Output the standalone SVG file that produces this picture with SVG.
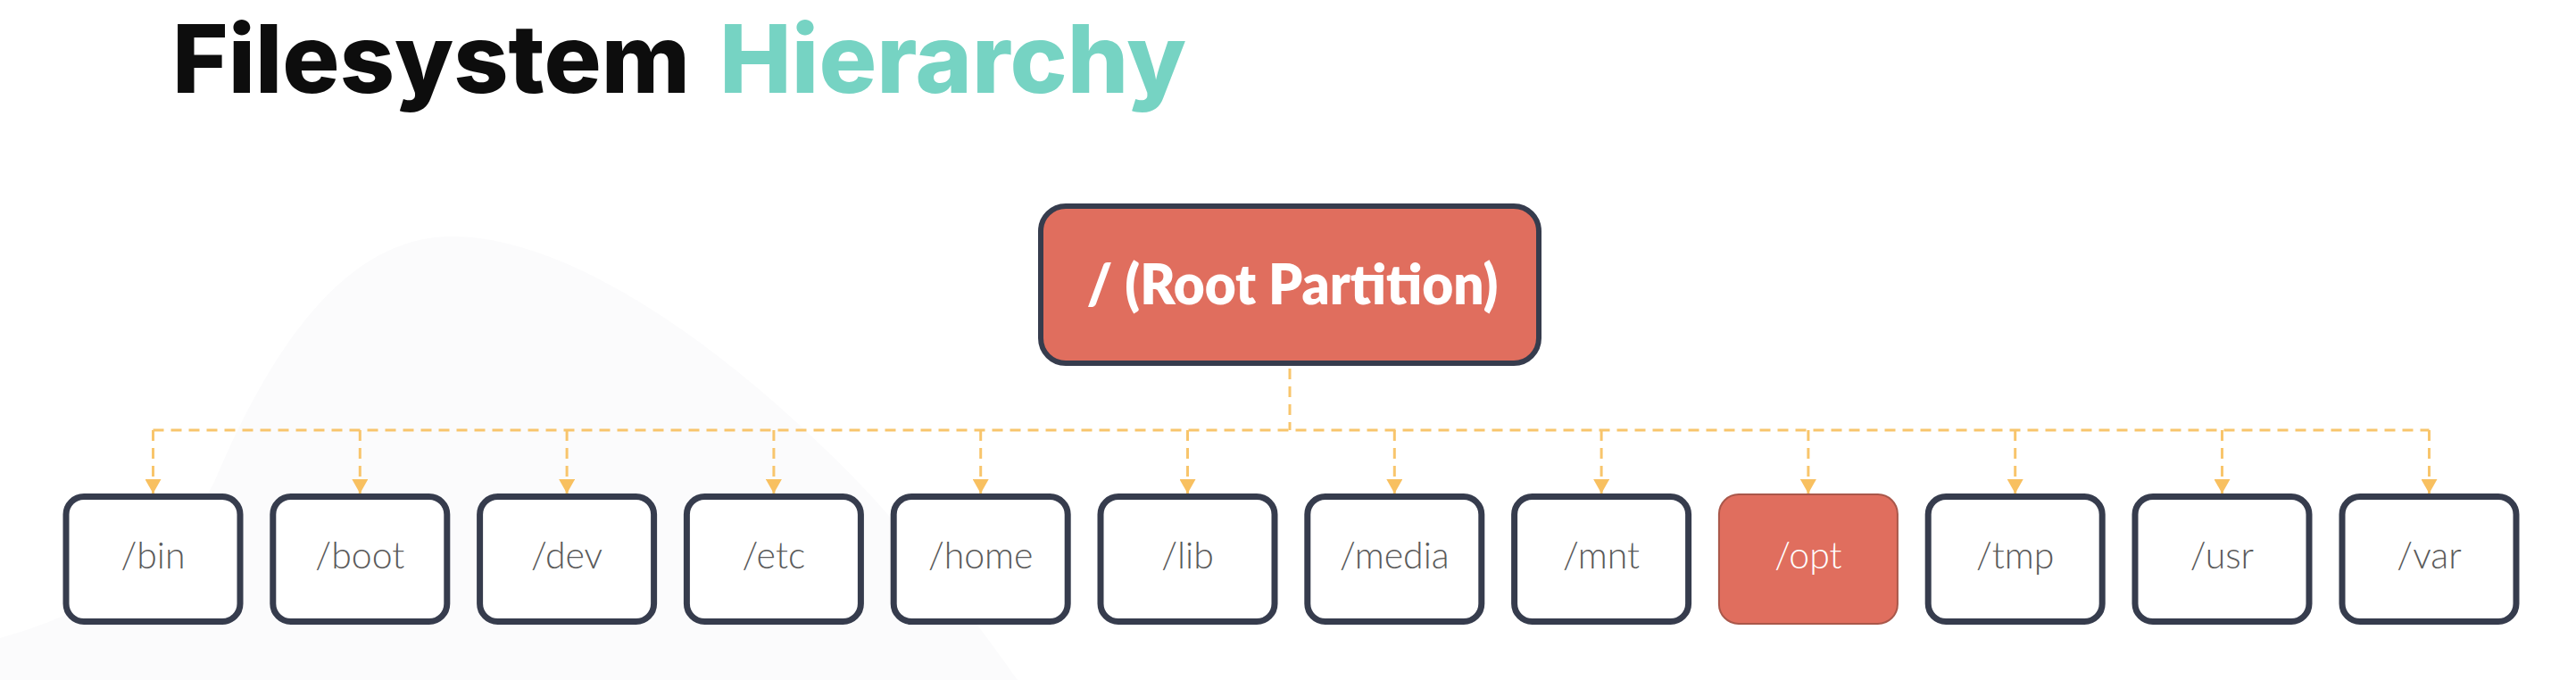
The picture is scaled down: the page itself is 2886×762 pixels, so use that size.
<svg xmlns="http://www.w3.org/2000/svg" width="2886" height="762" viewBox="0 0 2886 762">
<style>
.title{font-family:Inter,"Liberation Sans",sans-serif;font-weight:800;font-size:106px}
.box{fill:#ffffff;stroke:#363c4d;stroke-width:7}
.hl{fill:#e06e5e;stroke:#a9574a;stroke-width:2}
.lbl{font-family:Lato,"Open Sans",sans-serif;font-weight:300;font-size:41px;fill:#5a5a5a;text-anchor:middle}
.lblw{fill:#ffffff}
.conn{fill:none;stroke:#f8c56c;stroke-width:3;stroke-dasharray:12 8}
</style>
<defs>
<marker id="arr" viewBox="0 0 16 18" refX="16" refY="9" markerWidth="16" markerHeight="18" markerUnits="userSpaceOnUse" orient="auto">
<path d="M0,0 L16,9 L0,18 Z" fill="#f8c060"/>
</marker>
</defs>
<rect width="2886" height="762" fill="#ffffff"/>
<path d="M0,762 L0,715 C90,690 190,640 240,540 C300,400 380,270 500,265 C650,260 850,420 980,560 C1060,650 1110,720 1140,762 Z" fill="#fbfbfc"/>
<g id="title">
<text x="193" y="104" class="title" fill="#0d0d0d" textLength="580" lengthAdjust="spacingAndGlyphs">Filesystem</text>
<text x="806" y="104" class="title" fill="#76d3c3" textLength="523" lengthAdjust="spacingAndGlyphs">Hierarchy</text>
</g>
<g id="connectors">
<path class="conn" d="M1445,413 L1445,482"/>
<path class="conn" d="M171.5,482 L2721.5,482"/>
<g marker-end="url(#arr)">
<path class="conn" stroke-dasharray="10 8" d="M171.5,482 L171.5,553"/>
<path class="conn" stroke-dasharray="10 8" d="M403.3,482 L403.3,553"/>
<path class="conn" stroke-dasharray="10 8" d="M635.1,482 L635.1,553"/>
<path class="conn" stroke-dasharray="10 8" d="M866.9,482 L866.9,553"/>
<path class="conn" stroke-dasharray="10 8" d="M1098.7,482 L1098.7,553"/>
<path class="conn" stroke-dasharray="10 8" d="M1330.5,482 L1330.5,553"/>
<path class="conn" stroke-dasharray="10 8" d="M1562.3,482 L1562.3,553"/>
<path class="conn" stroke-dasharray="10 8" d="M1794.1,482 L1794.1,553"/>
<path class="conn" stroke-dasharray="10 8" d="M2025.9,482 L2025.9,553"/>
<path class="conn" stroke-dasharray="10 8" d="M2257.7,482 L2257.7,553"/>
<path class="conn" stroke-dasharray="10 8" d="M2489.5,482 L2489.5,553"/>
<path class="conn" stroke-dasharray="10 8" d="M2721.5,482 L2721.5,553"/>
</g>
</g>
<g id="root">
<rect x="1166" y="231" width="558" height="176" rx="28" fill="#e06e5e" stroke="#363c4d" stroke-width="6"/>
<text x="1448" y="341" font-family="Lato,'Open Sans',sans-serif" font-weight="800" font-size="62" fill="#ffffff" text-anchor="middle" textLength="461" lengthAdjust="spacingAndGlyphs">/ (Root Partition)</text>
</g>
<g id="bin"><rect class="box" x="74" y="556.5" width="195" height="140" rx="20"/><text class="lbl" x="171.5" y="637">/bin</text></g>
<g id="boot"><rect class="box" x="305.8" y="556.5" width="195" height="140" rx="20"/><text class="lbl" x="403.3" y="637">/boot</text></g>
<g id="dev"><rect class="box" x="537.6" y="556.5" width="195" height="140" rx="20"/><text class="lbl" x="635.1" y="637">/dev</text></g>
<g id="etc"><rect class="box" x="769.4" y="556.5" width="195" height="140" rx="20"/><text class="lbl" x="866.9" y="637">/etc</text></g>
<g id="home"><rect class="box" x="1001.2" y="556.5" width="195" height="140" rx="20"/><text class="lbl" x="1098.7" y="637">/home</text></g>
<g id="lib"><rect class="box" x="1233" y="556.5" width="195" height="140" rx="20"/><text class="lbl" x="1330.5" y="637">/lib</text></g>
<g id="media"><rect class="box" x="1464.8" y="556.5" width="195" height="140" rx="20"/><text class="lbl" x="1562.3" y="637">/media</text></g>
<g id="mnt"><rect class="box" x="1696.6" y="556.5" width="195" height="140" rx="20"/><text class="lbl" x="1794.1" y="637">/mnt</text></g>
<g id="opt"><rect class="hl" x="1925.9" y="554" width="200" height="145" rx="22"/><text class="lbl lblw" x="2025.9" y="637">/opt</text></g>
<g id="tmp"><rect class="box" x="2160.2" y="556.5" width="195" height="140" rx="20"/><text class="lbl" x="2257.7" y="637">/tmp</text></g>
<g id="usr"><rect class="box" x="2392" y="556.5" width="195" height="140" rx="20"/><text class="lbl" x="2489.5" y="637">/usr</text></g>
<g id="var"><rect class="box" x="2624" y="556.5" width="195" height="140" rx="20"/><text class="lbl" x="2721.5" y="637">/var</text></g>
</svg>
